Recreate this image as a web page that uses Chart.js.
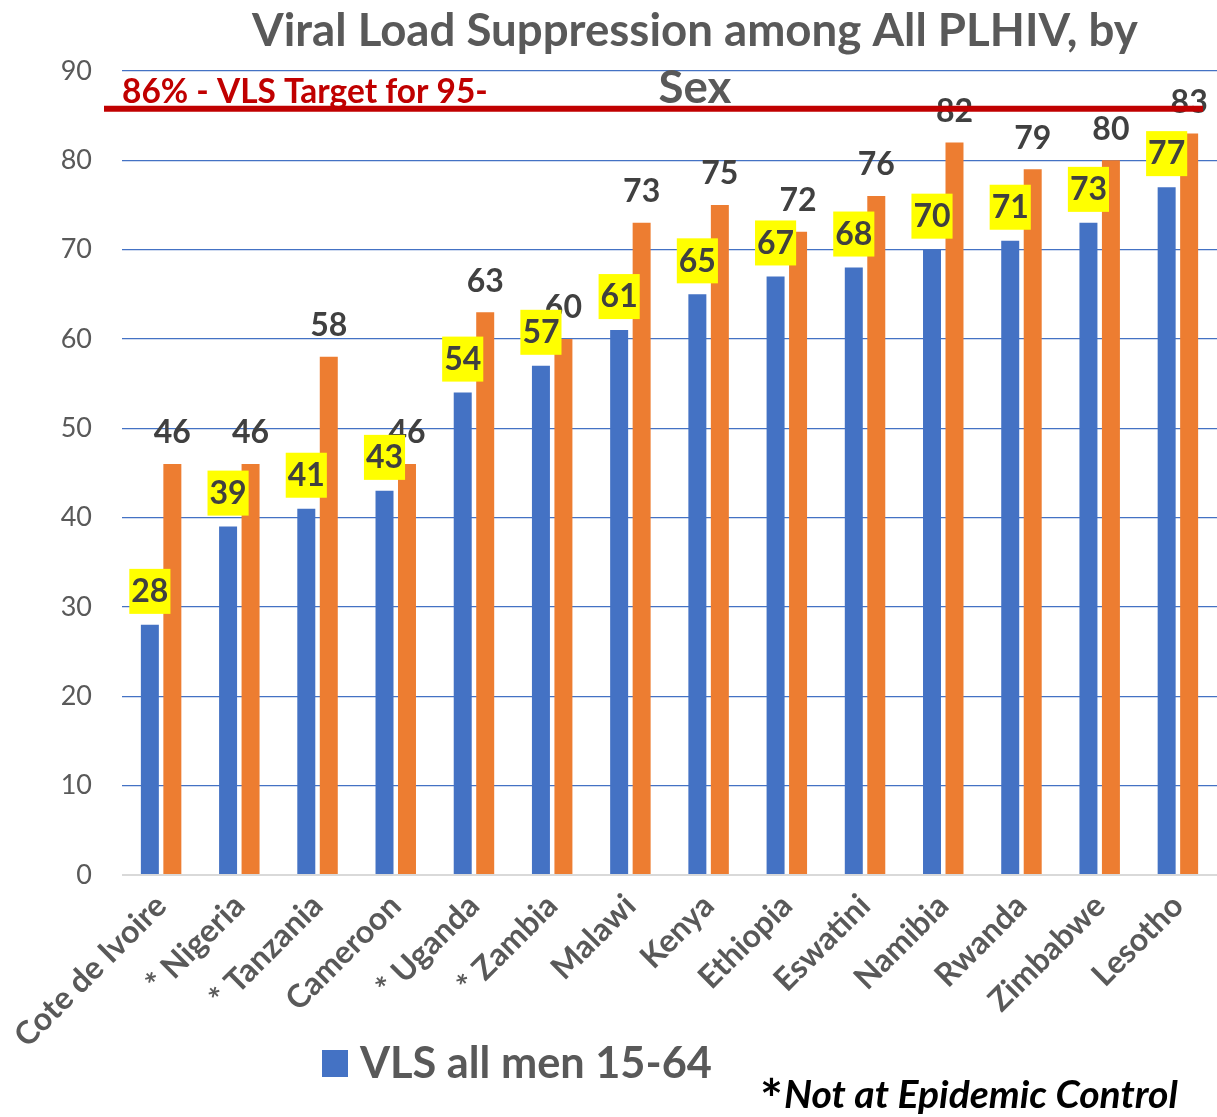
<!DOCTYPE html>
<html>
<head>
  <meta name="viewport" content="width=device-width, initial-scale=1.0">
  <title>Viral Load Suppression among All PLHIV, by Sex</title>
  <script src="https://cdn.jsdelivr.net/npm/chart.js"></script>
  <style>
    body {
      margin: 0;
      padding: 0;
      background: #ffffff;
    }
    canvas {
      display: block;
    }
  </style>
</head>
<body>
  <canvas id="vlsChart" width="1217" height="1117"></canvas>

  <script>
    // data
    const countries = ['Cote de Ivoire', '* Nigeria', '* Tanzania', 'Cameroon', '* Uganda', '* Zambia',
      'Malawi', 'Kenya', 'Ethiopia', 'Eswatini', 'Namibia', 'Rwanda', 'Zimbabwe', 'Lesotho'];
    const vlsMen = [28, 39, 41, 43, 54, 57, 61, 65, 67, 68, 70, 71, 73, 77];
    const vlsWomen = [46, 46, 58, 46, 63, 60, 73, 75, 72, 76, 82, 79, 80, 83];
    const seriesNames = ['VLS all men 15-64', 'VLS all women 15-64'];
    const targetValue = 86;
    const targetLabel = '86% - VLS Target for 95-';
    const titleLines = ['Viral Load Suppression among All PLHIV, by', 'Sex'];
    const footnote = 'Not at Epidemic Control';

    const FONT = 'Lato, "Open Sans", sans-serif';
    const BLUE = '#4472C4';
    const ORANGE = '#ED7D31';

    // sets a font so that the text comes out at a given width
    function fitFont(ctx, text, style, width) {
      ctx.font = style + ' 100px ' + FONT;
      const w = ctx.measureText(text).width;
      const size = 100 * width / w;
      ctx.font = style + ' ' + size + 'px ' + FONT;
      return size;
    }

    // value labels, target line, title, legend and footnote
    const extrasPlugin = {
      id: 'extras',
      afterDatasetsDraw(chart) {
        const ctx = chart.ctx;
        const area = chart.chartArea;
        const y = chart.scales.y;
        ctx.save();
        ctx.textAlign = 'center';
        ctx.textBaseline = 'middle';

        // women labels (plain)
        ctx.font = 'bold 32px ' + FONT;
        ctx.fillStyle = '#404040';
        chart.getDatasetMeta(1).data.forEach((bar, i) => {
          ctx.fillText(String(vlsWomen[i]), bar.x, bar.y - 31);
        });

        // men labels (yellow box)
        chart.getDatasetMeta(0).data.forEach((bar, i) => {
          const txt = String(vlsMen[i]);
          const tw = ctx.measureText(txt).width;
          const cy = bar.y - 34;
          ctx.fillStyle = '#FFFF00';
          ctx.fillRect(bar.x - tw / 2 - 2, cy - 22, tw + 4, 45);
          ctx.fillStyle = '#404040';
          ctx.fillText(txt, bar.x, cy + 1);
        });

        // target line
        const ty = y.getPixelForValue(targetValue) + 2;
        ctx.strokeStyle = '#C00000';
        ctx.lineWidth = 6;
        ctx.beginPath();
        ctx.moveTo(area.left - 18, ty);
        ctx.lineTo(area.right - 14, ty);
        ctx.stroke();

        ctx.textAlign = 'left';
        ctx.textBaseline = 'alphabetic';
        ctx.fillStyle = '#C00000';
        fitFont(ctx, targetLabel, 'bold', 366);
        ctx.fillText(targetLabel, area.left, ty - 6);

        // title
        ctx.textAlign = 'center';
        ctx.fillStyle = '#595959';
        const tsize = fitFont(ctx, titleLines[0], 'bold', 886);
        ctx.fillText(titleLines[0], 695, 46);
        ctx.font = 'bold ' + tsize + 'px ' + FONT;
        ctx.fillText(titleLines[1], 695, 103);

        // legend (only the men series shows)
        ctx.fillStyle = BLUE;
        ctx.fillRect(322, 1050, 26, 27);
        ctx.textAlign = 'left';
        ctx.textBaseline = 'middle';
        ctx.fillStyle = '#595959';
        fitFont(ctx, seriesNames[0], 'bold', 352);
        ctx.fillText(seriesNames[0], 360, 1064);

        // footnote
        ctx.textBaseline = 'alphabetic';
        ctx.fillStyle = '#000000';
        ctx.font = 'bold 54px ' + FONT;
        ctx.fillText('*', 760, 1118);
        fitFont(ctx, footnote, 'italic bold', 394);
        ctx.fillText(footnote, 784, 1108);
        ctx.restore();
      }
    };

    const ctx = document.getElementById('vlsChart').getContext('2d');
    const chart = new Chart(ctx, {
      type: 'bar',
      data: {
        labels: countries,
        datasets: [{
          label: seriesNames[0],
          data: vlsMen,
          backgroundColor: BLUE
        }, {
          label: seriesNames[1],
          data: vlsWomen,
          backgroundColor: ORANGE
        }]
      },
      options: {
        responsive: false,
        animation: false,
        categoryPercentage: 0.575,
        barPercentage: 0.8,
        layout: {
          padding: { top: 71, left: 0, right: 0, bottom: 0 }
        },
        plugins: {
          legend: { display: false },
          title: { display: false },
          tooltip: { enabled: false }
        },
        scales: {
          x: {
            grid: { display: false },
            border: { display: false },
            ticks: {
              color: '#595959',
              font: { family: FONT, size: 32, weight: 'bold' },
              minRotation: 45,
              maxRotation: 45,
              autoSkip: false,
              padding: 4
            },
            afterFit(scale) {
              scale.height = 242;
              scale.paddingLeft = 0;
              scale.paddingRight = 0;
            }
          },
          y: {
            min: 0,
            max: 90,
            border: { display: false },
            grid: {
              drawTicks: false,
              color: (c) => c.tick && c.tick.value === 0 ? '#D9D9D9' : BLUE,
              lineWidth: (c) => c.tick && c.tick.value === 0 ? 2 : 1.3
            },
            ticks: {
              stepSize: 10,
              color: '#595959',
              font: { family: FONT, size: 27 },
              padding: 30
            },
            afterFit(scale) {
              scale.width = 122;
              scale.paddingTop = 0;
              scale.paddingBottom = 0;
            }
          }
        }
      },
      plugins: [extrasPlugin]
    });
  </script>
</body>
</html>
